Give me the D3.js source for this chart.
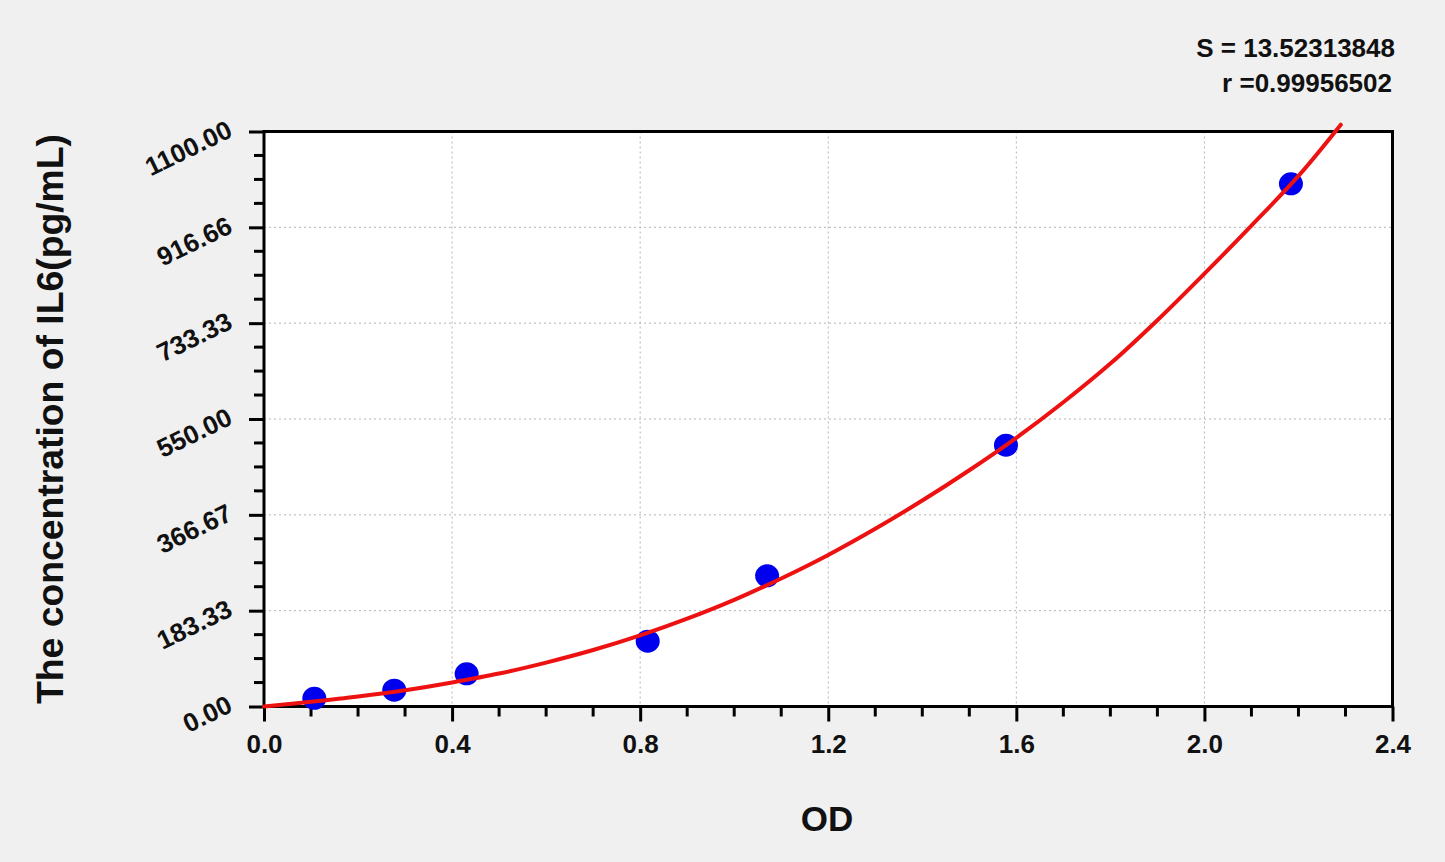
<!DOCTYPE html>
<html>
<head>
<meta charset="utf-8">
<script src="https://cdn.jsdelivr.net/npm/d3@7"></script>
<style>
  html, body { margin: 0; padding: 0; background: #f0f0f0; }
  svg { display: block; }
  text { font-family: "Liberation Sans", Arial, sans-serif; font-weight: bold; fill: #111; }
</style>
</head>
<body>
<svg id="chart" width="1445" height="862"></svg>
<script>
// ---- data ----
const pointOD   = [0.107, 0.277, 0.431, 0.816, 1.070, 1.578, 2.184];
const pointConc = [15.63, 31.25, 62.5, 125, 250, 500, 1000];

const curveOD   = [0, 0.1, 0.2, 0.3, 0.4, 0.5, 0.6, 0.7, 0.8, 0.9, 1.0, 1.1, 1.2, 1.3, 1.4, 1.5, 1.6, 1.7, 1.8, 1.9, 2.0, 2.1, 2.2, 2.29];
const curveConc = [0, 9, 19, 31, 46, 63, 84, 108, 136, 168, 204, 245, 290, 340, 394, 452, 514, 582, 656, 739, 828, 920, 1015, 1113];

const xTicks = [0.0, 0.4, 0.8, 1.2, 1.6, 2.0, 2.4];
const xTickLabels = ["0.0", "0.4", "0.8", "1.2", "1.6", "2.0", "2.4"];
const yTicks = [0, 183.33, 366.67, 550, 733.33, 916.66, 1100];
const yTickLabels = ["0.00", "183.33", "366.67", "550.00", "733.33", "916.66", "1100.00"];

const statS = "S = 13.52313848";
const statR = "r =0.99956502";
const xTitle = "OD";
const yTitle = "The concentration of IL6(pg/mL)";

// ---- layout ----
const svg = d3.select("#chart");
const L = 264, R = 1392.5, T = 131.5, B = 706.5;

const x = d3.scaleLinear().domain([0, 2.4]).range([L, R]);
const y = d3.scaleLinear().domain([0, 1100]).range([B, T]);

svg.append("rect").attr("width", 1445).attr("height", 862).attr("fill", "#f0f0f0");
svg.append("rect").attr("x", L).attr("y", T).attr("width", R - L).attr("height", B - T).attr("fill", "#ffffff");

// grid
const grid = svg.append("g");
grid.selectAll("line.gx").data(xTicks.slice(1, -1)).join("line")
  .attr("x1", d => x(d)).attr("x2", d => x(d)).attr("y1", T).attr("y2", B)
  .attr("stroke", "#b4b4b4").attr("stroke-width", 1).attr("stroke-dasharray", "2,3");
grid.selectAll("line.gy").data(yTicks.slice(1, -1)).join("line")
  .attr("x1", L).attr("x2", R).attr("y1", d => y(d)).attr("y2", d => y(d))
  .attr("stroke", "#b4b4b4").attr("stroke-width", 1).attr("stroke-dasharray", "2,3");

// minor ticks
const xMinor = [];
for (let i = 0; i < xTicks.length - 1; i++) for (let k = 1; k < 4; k++) xMinor.push(xTicks[i] + (xTicks[i+1] - xTicks[i]) * k / 4);
const yMinor = [];
for (let i = 0; i < yTicks.length - 1; i++) for (let k = 1; k < 4; k++) yMinor.push(yTicks[i] + (yTicks[i+1] - yTicks[i]) * k / 4);

// x axis
const xAxis = d3.axisBottom(x).tickValues(xTicks).tickFormat((d, i) => xTickLabels[i]).tickSize(15).tickSizeOuter(0).tickPadding(13);
const gx = svg.append("g").attr("transform", `translate(0,${B})`).call(xAxis);
gx.select(".domain").remove();
gx.selectAll(".tick line").attr("stroke", "#000").attr("stroke-width", 3);
gx.selectAll(".tick text").attr("font-size", 26).attr("fill", "#111").attr("font-family", "Liberation Sans, Arial, sans-serif").attr("font-weight", "bold");
svg.append("g").selectAll("line").data(xMinor).join("line")
  .attr("x1", d => x(d)).attr("x2", d => x(d)).attr("y1", B).attr("y2", B + 10)
  .attr("stroke", "#000").attr("stroke-width", 3);

// y axis
const yAxis = d3.axisLeft(y).tickValues(yTicks).tickFormat((d, i) => yTickLabels[i]).tickSize(15).tickSizeOuter(0);
const gy = svg.append("g").attr("transform", `translate(${L},0)`).call(yAxis);
gy.select(".domain").remove();
gy.selectAll(".tick line").attr("stroke", "#000").attr("stroke-width", 3);
gy.selectAll(".tick text")
  .attr("font-size", 26).attr("fill", "#111").attr("font-family", "Liberation Sans, Arial, sans-serif").attr("font-weight", "bold")
  .attr("x", null).attr("dy", null)
  .attr("text-anchor", "end")
  .attr("transform", "translate(-30,4) rotate(-26)");
svg.append("g").selectAll("line").data(yMinor).join("line")
  .attr("x1", L - 10).attr("x2", L).attr("y1", d => y(d)).attr("y2", d => y(d))
  .attr("stroke", "#000").attr("stroke-width", 3);

// frame
svg.append("rect").attr("x", L).attr("y", T).attr("width", R - L).attr("height", B - T)
  .attr("fill", "none").attr("stroke", "#000").attr("stroke-width", 3);

// curve
const line = d3.line().x((d, i) => x(curveOD[i])).y((d, i) => y(curveConc[i])).curve(d3.curveCatmullRom.alpha(0.5));

// points
svg.append("g").selectAll("ellipse").data(pointOD).join("ellipse")
  .attr("cx", d => x(d)).attr("cy", (d, i) => y(pointConc[i]))
  .attr("rx", 12).attr("ry", 11.5).attr("fill", "#0000ee");

svg.append("path").datum(curveOD).attr("d", line)
  .attr("fill", "none").attr("stroke", "#ee1111").attr("stroke-width", 4).attr("stroke-linejoin", "round").attr("stroke-linecap", "round");

// titles
svg.append("text").attr("x", 827).attr("y", 831).attr("text-anchor", "middle").attr("font-size", 35).text(xTitle);
svg.append("text").attr("transform", "translate(63,419) rotate(-90)").attr("text-anchor", "middle")
  .attr("font-size", 36).attr("textLength", 570).attr("lengthAdjust", "spacingAndGlyphs").text(yTitle);

// stats
svg.append("text").attr("x", 1395).attr("y", 57).attr("text-anchor", "end").attr("font-size", 26).text(statS);
svg.append("text").attr("x", 1392).attr("y", 92).attr("text-anchor", "end").attr("font-size", 26).text(statR);
</script>
</body>
</html>
